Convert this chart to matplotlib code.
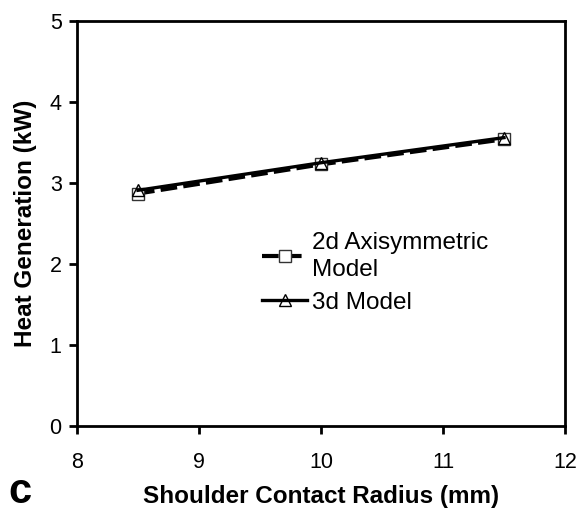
import matplotlib.pyplot as plt

plt.rcParams["font.family"] = ["Liberation Sans", "DejaVu Sans"]

# shoulder contact radius (mm) and computed heat generation (kW)
radius = [8.5, 10.0, 11.5]
heat_2d = [2.87, 3.23, 3.54]
heat_3d = [2.91, 3.25, 3.56]

x_ticks = [8, 9, 10, 11, 12]
y_ticks = [0, 1, 2, 3, 4, 5]

fig = plt.figure(figsize=(5.81, 5.17), dpi=100)
ax = fig.add_axes([77 / 581, 1 - 426 / 517, 488 / 581, 405 / 517])

ax.plot(radius, heat_2d, color="black", lw=3.0, ls=(0, (4, 1.5)),
        marker="s", ms=9, mfc="white", mec="#333333", mew=1.0,
        label="2d Axisymmetric\nModel")
ax.plot(radius, heat_3d, color="black", lw=2.4, ls="-",
        marker="^", ms=9, mfc="none", mec="black", mew=1.0,
        label="3d Model")

ax.set_xlim(8, 12)
ax.set_ylim(0, 5)
ax.set_xticks(x_ticks)
ax.set_yticks(y_ticks)
ax.tick_params(direction="out", length=6, width=2, labelsize=15.5, pad=13)
ax.tick_params(axis="y", pad=5)
for sp in ax.spines.values():
    sp.set_linewidth(2)

ax.set_xlabel("Shoulder Contact Radius (mm)", fontsize=17.5, fontweight="bold", labelpad=8)
ax.set_ylabel("Heat Generation (kW)", fontsize=17.5, fontweight="bold", labelpad=9)

leg = ax.legend(loc="upper left", bbox_to_anchor=(0.355, 0.51), frameon=False,
                fontsize=17.5, handlelength=1.85, handletextpad=0.2,
                labelspacing=0.45, borderpad=0)
for t in leg.get_texts():
    t.set_linespacing(1.3)

fig.text(8 / 581, 1 - 492 / 517, "c", fontsize=30, fontweight="bold", va="center")

fig.savefig("out.png", dpi=100)
